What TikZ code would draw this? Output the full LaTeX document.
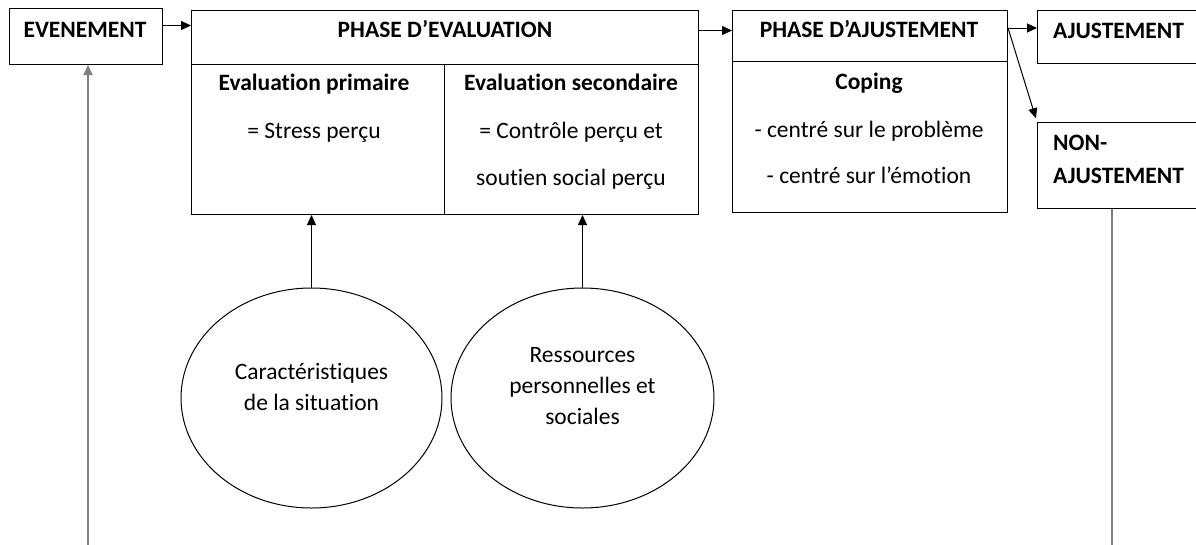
\documentclass[tikz,border=0pt]{standalone}
\usepackage{fontspec}
\setmainfont{Carlito}[Ligatures=NoCommon]
\usetikzlibrary{arrows.meta,shapes.geometric}
\definecolor{lgray}{RGB}{128,128,128}
\begin{document}
\begin{tikzpicture}[x=1pt,y=-1pt,
  box/.style={draw,line width=1pt,rectangle,inner sep=0pt,anchor=north west},
  lbl/.style={anchor=base,inner sep=0pt,font=\fontsize{23.5}{28}\selectfont},
  bl/.style={anchor=base,inner sep=0pt,font=\fontsize{23.5}{28}\selectfont\bfseries},
  bll/.style={anchor=base west,inner sep=0pt,font=\fontsize{23.5}{28}\selectfont\bfseries},
  arr/.style={line width=1pt,-{Triangle[length=10pt,width=9pt]}},
  grayarr/.style={line width=1.8pt,draw=lgray,-{Triangle[length=10pt,width=9pt]}},
  grayline/.style={line width=1.8pt,draw=lgray},
  ell/.style={draw,ellipse,line width=1pt,inner sep=0pt}]
\useasboundingbox (0,0) rectangle (1196,544);
\clip (0,0) rectangle (1196,544);
\fill[white] (0,0) rectangle (1196,544);

% boxes
\node[box,minimum width=153pt,minimum height=56pt] (evt) at (9,8) {};
\node[box,minimum width=507pt,minimum height=54pt] (peh) at (191,10) {};
\node[box,minimum width=253pt,minimum height=150pt] (pe1) at (191,64) {};
\node[box,minimum width=254pt,minimum height=150pt] (pe2) at (444,64) {};
\node[box,minimum width=275pt,minimum height=51pt] (pah) at (732,10) {};
\node[box,minimum width=275pt,minimum height=151pt] (pab) at (732,61) {};
\node[box,minimum width=180pt,minimum height=53pt] (aj) at (1037,10) {};
\node[box,minimum width=180pt,minimum height=86pt] (naj) at (1037,122) {};

% texts
\node[bl] (tevt) at (85,37) {EVENEMENT};
\node[bl] (tpe) at (445,37) {PHASE D’EVALUATION};
\node[bl] (tp1) at (314,90) {Evaluation primaire};
\node[lbl] (tp1b) at (314,138) {= Stress perçu};
\node[bl] (tp2) at (571,90) {Evaluation secondaire};
\node[lbl] (tp2b) at (571,138) {= Contrôle perçu et};
\node[lbl] (tp2c) at (571,185) {soutien social perçu};
\node[bl] (tpa) at (869,37) {PHASE D’AJUSTEMENT};
\node[bl] (tpab) at (869,89) {Coping};
\node[lbl] (tpac) at (869,137) {- centré sur le problème};
\node[lbl] (tpad) at (869,183) {- centré sur l’émotion};
\node[bll] (taj) at (1053,38) {AJUSTEMENT};
\node[bll] (tnaj1) at (1053,150) {NON-};
\node[bll] (tnaj2) at (1053,183) {AJUSTEMENT};

% ellipses
\node[ell,minimum width=261pt,minimum height=220pt] (e1) at (311.5,398) {};
\node[ell,minimum width=263pt,minimum height=220pt] (e2) at (582.5,398) {};
\node[lbl] (te1a) at (311.5,379) {Caractéristiques};
\node[lbl] (te1b) at (311.5,410) {de la situation};
\node[lbl] (te2a) at (582.5,362) {Ressources};
\node[lbl] (te2b) at (582.5,393) {personnelles et};
\node[lbl] (te2c) at (582.5,424) {sociales};

% connectors
\coordinate (a1) at ([yshift=11pt]evt.east);
\draw[arr] (a1) -- (a1 -| peh.west);
\coordinate (a2) at ([yshift=7pt]peh.east);
\draw[arr] (a2) -- (a2 -| pah.west);
\coordinate (a3) at ([yshift=8pt]pah.east);
\draw[arr] (a3) -- (a3 -| aj.west);
\draw[arr,shorten >=4pt] (a3) -- (naj.north west);
\draw[arr] (e1.north) -- (e1.north |- pe1.south);
\draw[arr] (e2.north) -- (e2.north |- pe2.south);
\coordinate (b1) at (88,545);
\draw[grayarr] (b1) -- (b1 |- evt.south);
\coordinate (b2) at (1112,545);
\draw[grayline] (b2 |- naj.south) -- (b2);
\end{tikzpicture}
\end{document}
